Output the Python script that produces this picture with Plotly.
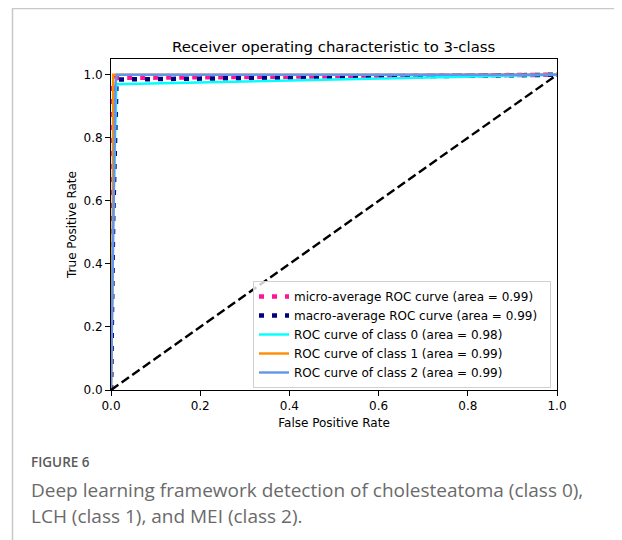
import plotly.graph_objects as go

# ---- data ----
fpr_micro = [0.0, 0.0, 0.005, 0.01, 1.0]
tpr_micro = [0.0, 0.45, 0.985, 0.99, 1.0]
fpr_macro = [0.0, 0.005, 0.012, 0.015, 1.0]
tpr_macro = [0.0, 0.55, 0.96, 0.985, 1.0]
fpr_c0 = [0.0, 0.004, 0.012, 1.0]
tpr_c0 = [0.0, 0.5, 0.97, 1.0]
fpr_c1 = [0.0, 0.003, 0.005, 1.0]
tpr_c1 = [0.0, 0.3, 1.0, 1.0]
fpr_c2 = [0.0, 0.01, 0.013, 1.0]
tpr_c2 = [0.0, 0.97, 1.0, 1.0]
diag_x = [0.0, 1.0]
diag_y = [0.0, 1.0]

labels = [
    "micro-average ROC curve (area = 0.99)",
    "macro-average ROC curve (area = 0.99)",
    "ROC curve of class 0 (area = 0.98)",
    "ROC curve of class 1 (area = 0.99)",
    "ROC curve of class 2 (area = 0.99)",
]
x_ticks = [0.0, 0.2, 0.4, 0.6, 0.8, 1.0]
y_ticks = [0.0, 0.2, 0.4, 0.6, 0.8, 1.0]

OFF = 8  # page body margin
W, H = 622 - OFF, 540 - OFF
L, R, T, B = 111 - OFF, 557 - OFF, 59 - OFF, 390 - OFF  # plot area pixels (in figure)


def px(x):
    return (x - OFF - L) / (R - L)


def py(y):
    return (B - (y - OFF)) / (B - T)


PAD = "\u00a0\u00a0"

fig = go.Figure()
fig.add_trace(go.Scatter(x=fpr_micro, y=tpr_micro, mode="lines", name=labels[0],
                         line=dict(color="deeppink", width=4.5, dash="5px,8px")))
fig.add_trace(go.Scatter(x=fpr_macro, y=tpr_macro, mode="lines", name=labels[1] + PAD,
                         line=dict(color="navy", width=4.5, dash="5px,8px")))
fig.add_trace(go.Scatter(x=fpr_c0, y=tpr_c0, mode="lines", name=labels[2],
                         line=dict(color="aqua", width=2.4)))
fig.add_trace(go.Scatter(x=fpr_c1, y=tpr_c1, mode="lines", name=labels[3],
                         line=dict(color="darkorange", width=2.4)))
fig.add_trace(go.Scatter(x=fpr_c2, y=tpr_c2, mode="lines", name=labels[4],
                         line=dict(color="cornflowerblue", width=2.4)))
fig.add_trace(go.Scatter(x=diag_x, y=diag_y, mode="lines", showlegend=False,
                         line=dict(color="black", width=2.4, dash="9px,4px")))

axis_common = dict(showline=True, linecolor="black", linewidth=1, mirror=True,
                   ticks="outside", ticklen=5, tickcolor="black", showgrid=False,
                   zeroline=False, tickformat=".1f",
                   tickfont=dict(family="DejaVu Sans", size=12, color="black"))

fig.update_xaxes(range=[0, 1], tickvals=x_ticks,
                 title=dict(text="False Positive Rate", standoff=6,
                            font=dict(family="DejaVu Sans", size=12, color="black")),
                 **axis_common)
fig.update_yaxes(range=[0, 1.05], tickvals=y_ticks,
                 title=dict(text="True Positive Rate", standoff=4,
                            font=dict(family="DejaVu Sans", size=12, color="black")),
                 **axis_common)

shapes = [
    dict(type="line", xref="paper", yref="paper", x0=px(12.5), x1=px(12.5), y0=py(7.5), y1=py(545),
         line=dict(color="#c8c8c8", width=1.5)),
    dict(type="line", xref="paper", yref="paper", x0=px(12.5), x1=px(630), y0=py(8.5), y1=py(8.5),
         line=dict(color="#c8c8c8", width=1.5)),
]

annotations = [
    dict(text="Receiver operating characteristic to 3-class", xref="paper", yref="paper",
         x=0.5, y=py(47), xanchor="center", yanchor="middle", showarrow=False,
         font=dict(family="DejaVu Sans", size=14.9, color="black")),
    dict(text="FIGURE 6", xref="paper", yref="paper", x=px(29), y=py(462),
         xanchor="left", yanchor="middle", showarrow=False,
         font=dict(family="Open Sans", size=13.5, color="#5a5a5a", weight=600)),
    dict(text="Deep learning framework detection of cholesteatoma (class 0),", xref="paper",
         yref="paper", x=px(29), y=py(490), xanchor="left", yanchor="middle", showarrow=False,
         font=dict(family="Open Sans", size=19, color="#6a6a6a")),
    dict(text="LCH (class 1), and MEI (class 2).", xref="paper",
         yref="paper", x=px(29), y=py(516), xanchor="left", yanchor="middle", showarrow=False,
         font=dict(family="Open Sans", size=19, color="#6a6a6a")),
]

fig.update_layout(
    width=W, height=H,
    margin=dict(l=L, r=W - R, t=T, b=H - B, pad=0),
    paper_bgcolor="white", plot_bgcolor="white",
    shapes=shapes, annotations=annotations,
    showlegend=True,
    legend=dict(x=px(551), y=py(388), xanchor="right", yanchor="bottom",
                bgcolor="rgba(255,255,255,0.8)", bordercolor="#d0d0d0", borderwidth=1,
                font=dict(family="DejaVu Sans", size=12, color="black"),
                tracegroupgap=0, itemwidth=30),
)

fig.write_html("out.html")
